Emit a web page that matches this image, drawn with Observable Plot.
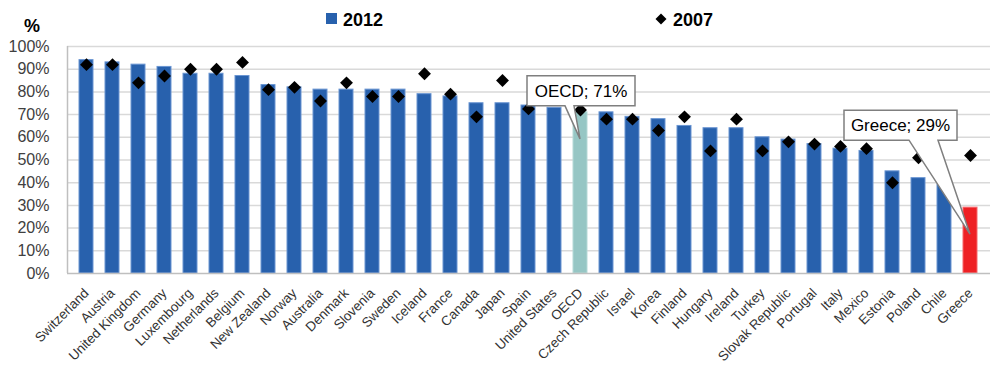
<!DOCTYPE html>
<html><head><meta charset="utf-8">
<script src="https://cdn.jsdelivr.net/npm/d3@7"></script>
<script src="https://cdn.jsdelivr.net/npm/@observablehq/plot@0.6"></script>
<style>
body{margin:0;background:#fff;font-family:"Liberation Sans",Arial,sans-serif;}
#wrap{position:relative;width:990px;height:365px;overflow:hidden;background:#fff}
#head{position:relative;height:40px}
#head .t{position:absolute;font-size:18px;line-height:18px;font-weight:bold;color:#000;white-space:nowrap}
#head svg{position:absolute}
</style></head><body>
<div id="wrap">
  <div id="head">
    <span class="t" style="left:24px;top:17px">%</span>
    <svg style="left:326px;top:13px" width="12" height="12"><rect width="11" height="11" fill="#2861ad"></rect></svg>
    <span class="t" style="left:343px;top:11px">2012</span>
    <svg style="left:655px;top:13px" width="12" height="12"><path d="M6,0.5L11.5,6L6,11.5L0.5,6Z" fill="#000"></path></svg>
    <span class="t" style="left:673px;top:11px">2007</span>
  </div>
  <div id="chart"></div>
</div>
<script>
const countries = ["Switzerland","Austria","United Kingdom","Germany","Luxembourg","Netherlands","Belgium","New Zealand","Norway","Australia","Denmark","Slovenia","Sweden","Iceland","France","Canada","Japan","Spain","United States","OECD","Czech Republic","Israel","Korea","Finland","Hungary","Ireland","Turkey","Slovak Republic","Portugal","Italy","Mexico","Estonia","Poland","Chile","Greece"];
const values2012 = [94,93,92,91,88,88,87,83,82,81,81,81,81,79,78,75,75,74,73,71,71,69,68,65,64,64,60,59,57,55,54,45,42,39,29];
const values2007 = [92,92,84,87,90,90,93,81,82,76,84,78,78,88,79,69,85,72.5,null,72,68,68,63,69,54,68,54,58,57,56,55,40,51,null,52];
const yTicks = [0,10,20,30,40,50,60,70,80,90,100];
const callouts = ["OECD","Greece"];

const data = countries.map((c,i)=>({country:c, v2012:values2012[i], v2007:values2007[i]}));
const barColor = c => c==="OECD" ? "#96c6c4" : c==="Greece" ? "#ee2024" : "#2861ad";
const barStroke = c => c==="OECD" ? "#b5d9d7" : c==="Greece" ? "#f5686c" : "#6a95d2";

const plot = Plot.plot({
  width: 990, height: 325,
  marginLeft: 67, marginRight: 0, marginTop: 6, marginBottom: 92,
  style: {fontFamily: '"Liberation Sans", Arial, sans-serif', fontSize: "16px", color: "#404040", background: "#fff", overflow: "visible"},
  x: {domain: countries, padding: 0.45, label: null, axis: null},
  y: {domain: [0,100], label: null},
  color: {type: "identity"},
  marks: [
    Plot.ruleY(yTicks.slice(1), {stroke: "#d9d9d9", strokeWidth: 1.5}),
    Plot.barY(data, {x: "country", y: "v2012", fill: d => barColor(d.country), stroke: d => barStroke(d.country), strokeWidth: 1}),
    Plot.ruleY([0], {stroke: "#bfbfbf", strokeWidth: 1.5}),
    Plot.dot(data.filter(d => d.v2007 != null), {x: "country", y: "v2007", symbol: "diamond2", r: 5.8, fill: "#000", stroke: "none"}),
    Plot.axisY({ticks: yTicks, tickFormat: d => d + "%", tickSize: 0, tickPadding: 18, fontSize: 16, label: null}),
    Plot.text(countries, {x: d => d, text: d => d, frameAnchor: "bottom", rotate: -45, textAnchor: "end", lineAnchor: "bottom", dx: 3, dy: 20.5, fontSize: 13.4, fill: "#333"})
  ]
});
document.getElementById("chart").appendChild(plot);

const xs = plot.scale("x"), ys = plot.scale("y");
const svg = d3.select(plot);
// left border of plot area
svg.append("line").attr("x1", 67.5).attr("x2", 67.5).attr("y1", ys.apply(100)).attr("y2", ys.apply(0))
  .attr("stroke", "#bfbfbf").attr("stroke-width", 1.5);

const boxGeom = {
  OECD:   {l: -53, r: 55, t: -63, b: -33, b1: -15, b2: -6},
  Greece: {l: -126, r: -13, t: -124, b: -94, b1: -61, b2: -32}
};
for (const c of callouts) {
  const i = countries.indexOf(c);
  const tx = xs.apply(c) + xs.bandwidth / 2;
  const ty = ys.apply(values2012[i]) + 27;
  const g = boxGeom[c];
  const L = tx + g.l, R = tx + g.r, T = ty + g.t, B = ty + g.b;
  svg.append("path")
    .attr("d", `M${L},${T}H${R}V${B}H${tx + g.b2}L${tx},${ty}L${tx + g.b1},${B}H${L}Z`)
    .attr("fill", "#fff").attr("stroke", "#7f7f7f").attr("stroke-width", 1.5);
  svg.append("text").attr("x", (L + R) / 2).attr("y", (T + B) / 2).attr("dy", "0.36em")
    .attr("text-anchor", "middle").attr("font-size", 17).attr("fill", "#000")
    .attr("font-family", '"Liberation Sans", Arial, sans-serif')
    .text(`${c}; ${values2012[i]}%`);
}
</script>
</body></html>
